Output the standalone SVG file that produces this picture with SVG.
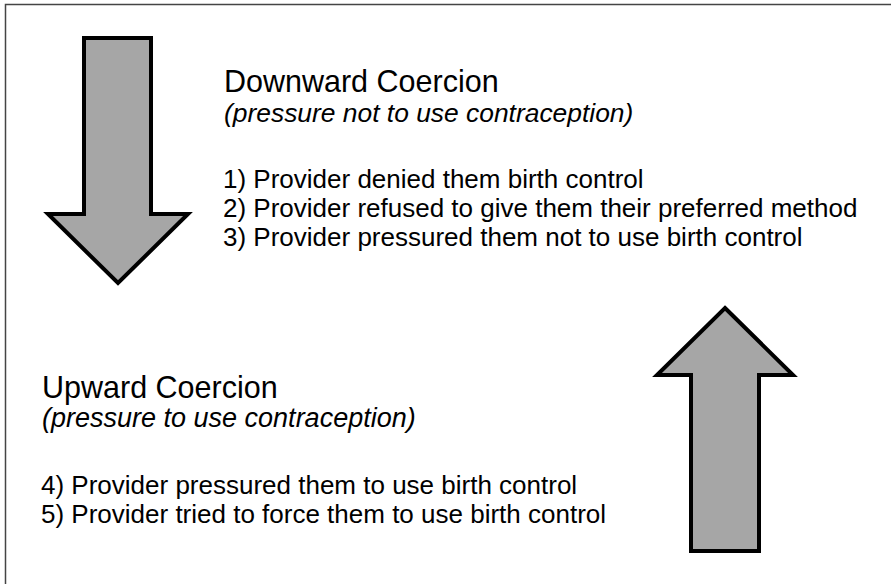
<svg xmlns="http://www.w3.org/2000/svg" width="891" height="584" viewBox="0 0 891 584">
<style>
.arrow{fill:#a6a6a6;stroke:#000;stroke-width:4;stroke-linejoin:miter}
.t{font-family:"Liberation Sans",Arial,sans-serif;fill:#000}
.h{font-size:30.5px}
.s{font-size:26.4px;font-style:italic}
.s2{font-size:27px;font-style:italic}
.l{font-size:26px}
</style>
<rect width="891" height="584" fill="#fff"/>
<g id="frame">
<path d="M5.5 584 V4.5 H891" fill="none" stroke="#444" stroke-width="1.5"/>
</g>
<g id="down-arrow">
<polygon class="arrow" points="84,38 151,38 151,214 188,214 118,283 48,214 84,214"/>
</g>
<g id="up-arrow">
<polygon class="arrow" points="725,308 793,375 759,375 759,551 691,551 691,375 657,375"/>
</g>
<g id="downward-text" class="t">
<text class="h" x="224" y="92">Downward Coercion</text>
<text class="s" x="224" y="122">(pressure not to use contraception)</text>
<text class="l" x="223" y="188">1) Provider denied them birth control</text>
<text class="l" x="223" y="217">2) Provider refused to give them their preferred method</text>
<text class="l" x="223" y="246">3) Provider pressured them not to use birth control</text>
</g>
<g id="upward-text" class="t">
<text class="h" x="42" y="398">Upward Coercion</text>
<text class="s2" x="42" y="427">(pressure to use contraception)</text>
<text class="l" x="41" y="494">4) Provider pressured them to use birth control</text>
<text class="l" x="41" y="523">5) Provider tried to force them to use birth control</text>
</g>
</svg>
